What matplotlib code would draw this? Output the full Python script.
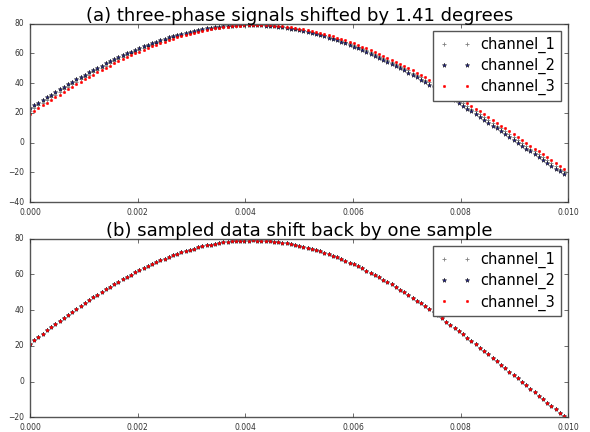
import numpy as np
import matplotlib
matplotlib.use("Agg")
import matplotlib.pyplot as plt

# sampled 50 Hz waveform, 256 samples per cycle (one sample = 1.41 deg)
# one extra sample on each end for the shifted channels
wave = [19.37, 21.24, 23.10, 24.95, 26.78, 28.60, 30.40, 32.18, 33.94, 35.68,
        37.40, 39.10, 40.77, 42.42, 44.04, 45.64, 47.21, 48.75, 50.25, 51.73,
        53.18, 54.60, 55.98, 57.33, 58.65, 59.92, 61.17, 62.37, 63.54, 64.67,
        65.78, 66.84, 67.86, 68.83, 69.76, 70.65, 71.50, 72.29, 73.05, 73.77,
        74.44, 75.07, 75.65, 76.19, 76.68, 77.12, 77.52, 77.87, 78.17, 78.43,
        78.64, 78.80, 78.91, 78.98, 79.00, 78.97, 78.90, 78.77, 78.60, 78.38,
        78.12, 77.81, 77.44, 77.04, 76.59, 76.09, 75.55, 74.96, 74.32, 73.64,
        72.92, 72.15, 71.34, 70.48, 69.58, 68.65, 67.66, 66.64, 65.58, 64.48,
        63.34, 62.16, 60.95, 59.69, 58.41, 57.08, 55.73, 54.35, 52.92, 51.46,
        49.98, 48.46, 46.92, 45.35, 43.74, 42.11, 40.46, 38.78, 37.08, 35.36,
        33.61, 31.85, 30.06, 28.26, 26.44, 24.61, 22.76, 20.90, 19.02, 17.13,
        15.23, 13.33, 11.41, 9.49, 7.56, 5.63, 3.70, 1.76, -0.18, -2.12,
        -4.06, -5.99, -7.92, -9.85, -11.77, -13.68, -15.59, -17.48, -19.37, -21.24]

fs = 12800.0
n_samples = 128
t = np.arange(n_samples) / fs

# (a) raw channels, each one sample apart
ch1 = wave[1:1 + n_samples]
ch2 = wave[2:2 + n_samples]   # leads
ch3 = wave[0:n_samples]       # lags

# (b) after shifting back by one sample they all line up
ch1_b = ch1
ch2_b = wave[1:1 + n_samples]
ch3_b = wave[1:1 + n_samples]

plt.style.use('classic')
plt.rcParams['figure.facecolor'] = 'white'
plt.rcParams['savefig.facecolor'] = 'white'

fig = plt.figure(figsize=(5.9, 4.32), dpi=100)
ax1 = fig.add_axes([0.051, 0.5324, 0.912, 0.4132])
ax2 = fig.add_axes([0.051, 0.034, 0.912, 0.4135])

def draw(ax, a, b, c, title, ylim):
	ax.plot(t, a, '+', color='grey', markersize=3.5, markeredgewidth=0.6, label='channel_1')
	ax.plot(t, b, '*', color='#1c1c8c', markersize=3.3, markeredgewidth=0.3, label='channel_2')
	ax.plot(t, c, '.', color='red', markersize=3.6, markeredgewidth=0.3, label='channel_3')
	ax.set_xlim(0, 0.01)
	ax.set_ylim(*ylim)
	ax.set_xticks([0.0, 0.002, 0.004, 0.006, 0.008, 0.010])
	ax.set_xticklabels(['0.000', '0.002', '0.004', '0.006', '0.008', '0.010'])
	ax.tick_params(labelsize=5.5, colors='#333333', length=3)
	for sp in ax.spines.values():
		sp.set_color('#555555')
	ax.set_title(title, fontsize=13, y=0.975)
	leg = ax.legend(loc='upper right', numpoints=2, fontsize=10.5,
					handlelength=2.2, borderpad=0.4, labelspacing=0.35,
					handletextpad=0.6, borderaxespad=0.5)
	leg.get_frame().set_edgecolor('#555555')

draw(ax1, ch1, ch2, ch3, '(a) three-phase signals shifted by 1.41 degrees', (-40, 80))
draw(ax2, ch1_b, ch2_b, ch3_b, '(b) sampled data shift back by one sample', (-20, 80))

fig.savefig('out.png', dpi=100)
